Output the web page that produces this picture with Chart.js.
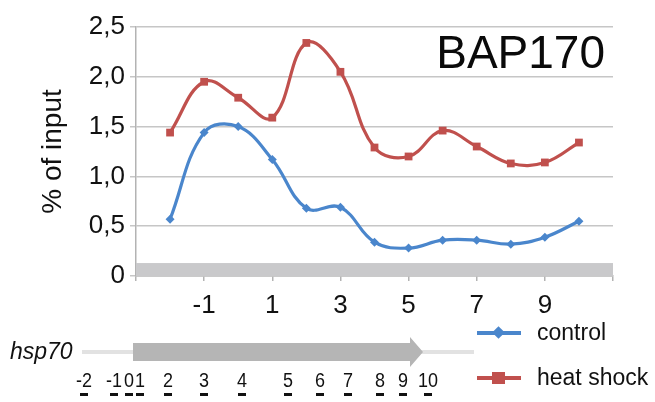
<!DOCTYPE html>
<html>
<head>
<meta charset="utf-8">
<script src="https://cdn.jsdelivr.net/npm/chart.js@4.4.1/dist/chart.umd.min.js"></script>
<style>
  html, body { margin: 0; padding: 0; background: #fff; }
  #wrap { position: relative; width: 655px; height: 402px; overflow: hidden; font-family: "Liberation Sans", Arial, sans-serif; color: #111; }
  #c { position: absolute; left: 0; top: 0; }
  .ov { position: absolute; white-space: nowrap; }
  #title { right: 50px; top: 29px; font-size: 46px; line-height: 46px; color: #0a0a0a; }
  #gene { left: 10px; top: 338px; font-size: 23px; line-height: 26px; font-style: italic; }
  .amp { position: absolute; top: 370px; font-size: 18px; line-height: 21px; transform: translateX(-50%) scaleY(1.12); text-align: center; white-space: nowrap; }
  .dash { position: absolute; top: 393px; width: 8px; height: 3px; background: #111; transform: translateX(-50%); }
  .leg { position: absolute; left: 477px; height: 24px; width: 178px; }
  .leg .ln { position: absolute; left: 0; top: 10px; width: 44px; height: 4px; }
  .leg .mk { position: absolute; }
  .leg .tx { position: absolute; left: 60px; top: -2px; font-size: 23px; line-height: 26px; white-space: nowrap; }
</style>
</head>
<body>
<div id="wrap">
  <canvas id="c" width="655" height="402"></canvas>
  <div id="title" class="ov">BAP170</div>
  <svg class="ov" style="left:0;top:0" width="655" height="402">
    <rect x="82" y="350" width="52" height="4" fill="#e2e2e2"/>
    <rect x="420" y="350" width="54" height="4" fill="#e2e2e2"/>
    <polygon points="133,343 410,343 410,337 423,352 410,367 410,361 133,361" fill="#b5b5b5"/>
  </svg>
  <div id="gene" class="ov">hsp70</div>
  <div id="amps"></div>
  <div id="legend"></div>
</div>
<script>
// ---- data ----
const positions = [-2, -1, 0, 1, 2, 3, 4, 5, 6, 7, 8, 9, 10];
const control   = [0.57, 1.44, 1.50, 1.17, 0.68, 0.69, 0.34, 0.28, 0.36, 0.36, 0.32, 0.39, 0.55];
const heatShock = [1.44, 1.95, 1.79, 1.59, 2.34, 2.05, 1.29, 1.20, 1.46, 1.30, 1.13, 1.14, 1.34];
const seriesNames = ['control', 'heat shock'];
const xTickLabels = ['-1', '1', '3', '5', '7', '9'];
const yTickLabels = ['0', '0,5', '1,0', '1,5', '2,0', '2,5'];
const ampliconLabels = ['-2', '-1', '0', '1', '2', '3', '4', '5', '6', '7', '8', '9', '10'];
const chartTitle = 'BAP170';
const yAxisTitle = '% of input';
const geneName = 'hsp70';

// ---- layout (pixel positions of the gene diagram annotations) ----
const ampliconX = [84, 114, 129, 140, 168, 204, 242, 288, 320, 348, 380, 403, 428];
const bandTop = 0.13;

const BLUE = '#4a86cc';
const RED = '#c0504d';
const FONT = '"Liberation Sans", Arial, sans-serif';
const TEXT = '#111';

document.getElementById('title').textContent = chartTitle;
document.getElementById('gene').textContent = geneName;

const amps = document.getElementById('amps');
ampliconLabels.forEach((t, i) => {
  const s = document.createElement('div');
  s.className = 'amp'; s.style.left = ampliconX[i] + 'px'; s.textContent = t;
  amps.appendChild(s);
  const d = document.createElement('div');
  d.className = 'dash'; d.style.left = ampliconX[i] + 'px';
  amps.appendChild(d);
});

const bandPlugin = {
  id: 'band',
  beforeDatasetsDraw(chart) {
    const { ctx, chartArea, scales } = chart;
    const y0 = scales.y.getPixelForValue(0);
    const y1 = scales.y.getPixelForValue(bandTop);
    ctx.save();
    ctx.fillStyle = '#c9c9cb';
    ctx.fillRect(chartArea.left, y1, chartArea.right - chartArea.left, y0 - y1);
    ctx.restore();
  }
};

const chart = new Chart(document.getElementById('c'), {
  type: 'line',
  data: {
    datasets: [
      {
        label: seriesNames[0],
        data: positions.map((x, i) => ({ x, y: control[i] })),
        borderColor: BLUE, backgroundColor: BLUE,
        borderWidth: 3.2, tension: 0.4,
        pointStyle: 'rectRot', pointRadius: 4.5, pointBorderWidth: 0
      },
      {
        label: seriesNames[1],
        data: positions.map((x, i) => ({ x, y: heatShock[i] })),
        borderColor: RED, backgroundColor: RED,
        borderWidth: 3.2, tension: 0.4,
        pointStyle: 'rect', pointRadius: 5.5, pointBorderWidth: 0
      }
    ]
  },
  options: {
    responsive: false,
    animation: false,
    layout: { padding: { left: 0, right: 42, top: 27, bottom: 0 } },
    plugins: { legend: { display: false }, tooltip: { enabled: false } },
    scales: {
      x: {
        type: 'linear', min: -3, max: 11,
        afterFit(s) { s.height = 126; },
        grid: { drawOnChartArea: false, drawTicks: true, tickLength: 5, color: '#b3b3b3', lineWidth: 1.5 },
        border: { color: '#b3b3b3', width: 1.5 },
        ticks: {
          stepSize: 2, autoSkip: false, maxRotation: 0, padding: 9,
          color: TEXT, font: { family: FONT, size: 26 },
          callback: (v) => xTickLabels.includes(String(v)) ? String(v) : ''
        }
      },
      y: {
        min: 0, max: 2.5,
        afterFit(s) { s.width = 136; },
        grid: { color: '#c6c6c6', lineWidth: 1.5, tickLength: 6 },
        border: { color: '#b3b3b3', width: 1.5 },
        ticks: {
          stepSize: 0.5, padding: 5,
          color: TEXT, font: { family: FONT, size: 26 },
          callback: (v) => yTickLabels[Math.round(v / 0.5)]
        },
        title: {
          display: true, text: yAxisTitle, color: TEXT,
          font: { family: FONT, size: 28, lineHeight: 1.2 },
          padding: { top: 36, bottom: 0 }
        }
      }
    }
  },
  plugins: [bandPlugin]
});

// HTML legend built from the chart datasets
const legend = document.getElementById('legend');
const legendY = [321, 366];
chart.data.datasets.forEach((ds, i) => {
  const item = document.createElement('div');
  item.className = 'leg'; item.style.top = legendY[i] + 'px';
  const ln = document.createElement('div');
  ln.className = 'ln'; ln.style.background = ds.borderColor;
  item.appendChild(ln);
  const mk = document.createElement('div');
  mk.className = 'mk'; mk.style.background = ds.borderColor;
  if (ds.pointStyle === 'rectRot') {
    mk.style.left = '17px'; mk.style.top = '7px'; mk.style.width = '9px'; mk.style.height = '9px';
    mk.style.transform = 'rotate(45deg)';
  } else {
    mk.style.left = '15px'; mk.style.top = '6px'; mk.style.width = '13px'; mk.style.height = '12px';
  }
  item.appendChild(mk);
  const tx = document.createElement('div');
  tx.className = 'tx'; tx.textContent = ds.label;
  item.appendChild(tx);
  legend.appendChild(item);
});
</script>
</body>
</html>
